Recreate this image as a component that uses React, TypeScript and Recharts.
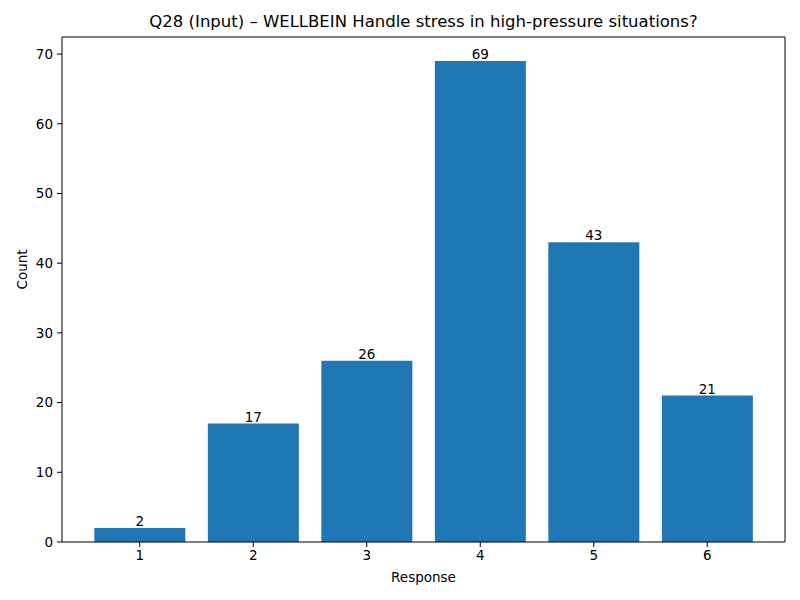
import { BarChart, Bar, XAxis, YAxis, LabelList } from 'recharts'

const responses = ['1', '2', '3', '4', '5', '6']
const counts = [2, 17, 26, 69, 43, 21]
const yTicks = [0, 10, 20, 30, 40, 50, 60, 70]

const data = responses.map((r, i) => ({ response: r, count: counts[i] }))

const FONT = 'DejaVu Sans, sans-serif'
const tick = { fontSize: 13.5, fontFamily: FONT, fill: '#000' }

export default function App() {
  return (
    <div style={{ position: 'absolute', left: 0, top: 0, width: 800, height: 600, background: '#fff' }}>
      <div style={{
        position: 'absolute', top: 12, left: 62, width: 723, textAlign: 'center',
        fontFamily: FONT, fontSize: 16.5, color: '#000',
      }}>
        Q28 (Input) – WELLBEIN Handle stress in high-pressure situations?
      </div>
      <BarChart width={800} height={600} data={data}
        margin={{ top: 36, right: 14, bottom: 28, left: 22 }}
        barCategoryGap="10%">
        <XAxis dataKey="response" padding={{ left: 21, right: 21 }} height={30}
          tick={tick} tickSize={5} tickMargin={3}
          stroke="#000" tickLine={{ stroke: '#000' }}
          label={{ value: 'Response', position: 'insideBottom', offset: -10, fontSize: 13.5, fontFamily: FONT, fill: '#000' }} />
        <XAxis xAxisId="top" dataKey="response" orientation="top" height={1}
          tick={false} tickLine={false} stroke="#000" padding={{ left: 21, right: 21 }} />
        <YAxis domain={[0, 72.45]} ticks={yTicks} width={40} interval={0}
          tick={tick} tickSize={5} tickMargin={4}
          stroke="#000" tickLine={{ stroke: '#000' }}
          label={{ value: 'Count', angle: -90, position: 'insideLeft', offset: 0, fontSize: 13.5, fontFamily: FONT, fill: '#000' }} />
        <YAxis yAxisId="right" orientation="right" domain={[0, 72.45]} width={1}
          tick={false} tickLine={false} stroke="#000" />
        <Bar dataKey="count" fill="#1f77b4" isAnimationActive={false}>
          <LabelList dataKey="count" position="top" offset={2}
            style={{ fontSize: 13.5, fontFamily: FONT, fill: '#000' }} />
        </Bar>
      </BarChart>
    </div>
  )
}
